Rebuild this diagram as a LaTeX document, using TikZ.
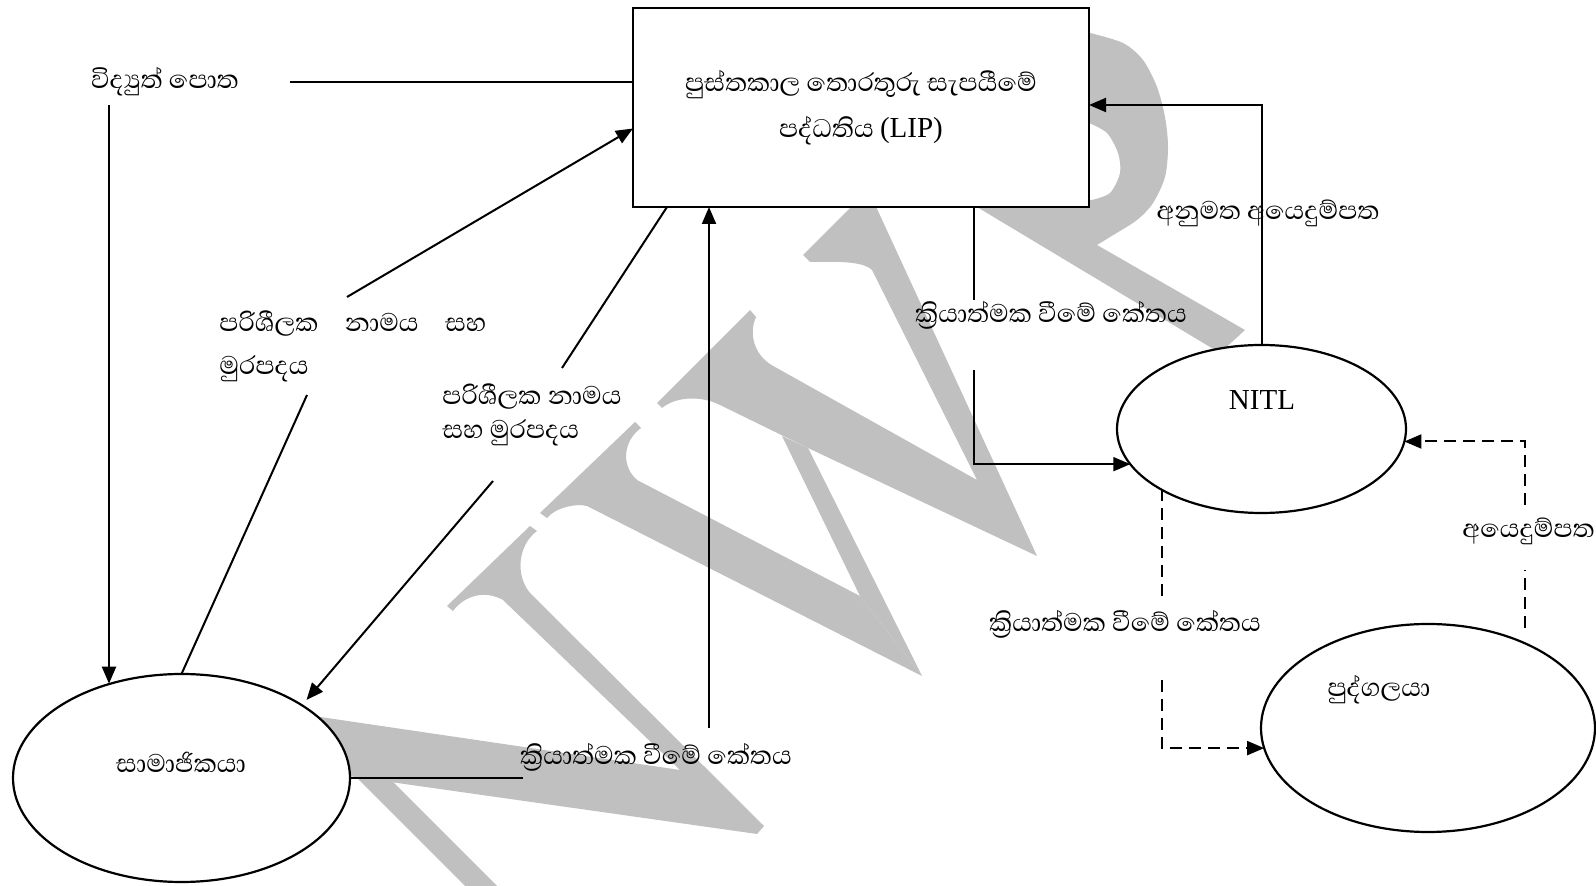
\documentclass[tikz,border=0pt]{standalone}
\usepackage{fontspec}
\setmainfont{Liberation Serif}
\newfontfamily\sinfnt[Script=Sinhala]{Abhaya Libre}
\usetikzlibrary{shapes.geometric,arrows.meta,calc}
\definecolor{wm}{HTML}{C0C0C0}
\newcommand{\sfs}{16.3pt}
\newcommand{\kk}{ක්^^^^200dරියාත්මක වීමේ කේතය}
\begin{document}
\begin{tikzpicture}[x=0.5pt,y=-0.5pt,
  conn/.style={line width=1pt},
  arr/.style={conn,-{Triangle[length=8.5pt,width=7pt]}},
  dsh/.style={conn,dash pattern=on 6pt off 3.5pt},
  darr/.style={dsh,-{Triangle[length=8.5pt,width=7pt]}},
  ell/.style={draw,ellipse,line width=1.1pt,fill=white,inner sep=0pt,outer sep=0pt},
  boxn/.style={draw,rectangle,line width=0.7pt,fill=white,inner sep=0pt,outer sep=0pt,minimum width=228pt,minimum height=99.5pt,align=center},
  si/.style={font=\sinfnt\fontsize{\sfs}{\sfs}\selectfont,inner sep=0pt},
  la/.style={font=\fontsize{14.5pt}{14.5pt}\selectfont,inner sep=0pt},
  wmk/.style={fill=wm,draw=none}
]
\useasboundingbox (0,0) rectangle (1596,886);
\fill[white] (0,0) rectangle (1596,886);

% ---- watermark ----
% N left stem
\fill[wmk] (465,886) -- (497,886) -- (343,732) -- (327,748) -- cycle;
% N diagonal + right stem
\fill[wmk] (300,714) -- (680,770) -- (503,600) .. controls (485,590) and (465,595) .. (453,611)
  -- (447,606) -- (530,526) -- (537,531) .. controls (518,545) and (515,575) .. (530,593)
  -- (764,826) -- (757,834) -- (320,772) -- cycle;
% W stroke 1
\fill[wmk] (540,513) -- (635,422) -- (641,428) .. controls (624,440) and (620,465) .. (637,480)
  -- (860,596) -- (922,676) -- (587,506) .. controls (575,503) and (555,508) .. (547,518) -- cycle;
% W stroke 2
\fill[wmk] (782,436) -- (808,448) -- (922,676) -- (860,596) -- cycle;
% W strokes 3 and 4
\fill[wmk] (657,403) -- (750,310) -- (756,317) .. controls (748,335) and (755,357) .. (775,367)
  -- (977,480) -- (872,270) .. controls (862,260) and (830,262) .. (810,262) -- (803,255)
  -- (860,198) -- (872,198) -- (1037,556) -- (808,448) -- (720,405)
  .. controls (700,395) and (675,397) .. (662,408) -- cycle;
% P
\fill[wmk] (1080,30) -- plot[smooth] coordinates {(1090,33) (1123,43) (1143,60) (1157,87) (1165,117) (1168,147) (1165,177) (1153,203) (1137,220) (1110,237) (1097,245)}
  -- (1245,330) -- (1220,353) -- (977,207) -- (970,195) -- (1092,200)
  -- plot[smooth] coordinates {(1092,200) (1110,193) (1120,173) (1118,153) (1107,133) (1089,123)}
  -- (1080,123) -- cycle;

% ---- nodes ----
\node[boxn,si] (lip) at (861,107.5) {පුස්තකාල තොරතුරු සැපයීමේ\\[7pt]පද්ධතිය {\fontsize{14.5pt}{14.5pt}\rmfamily\selectfont (LIP)}};
\node[ell,minimum width=168.5pt,minimum height=104pt] (sam) at (181.5,778) {};
\node[ell,minimum width=144.5pt,minimum height=84pt] (nitl) at (1261.5,429) {};
\node[ell,minimum width=167pt,minimum height=104pt] (pud) at (1428,728) {};

% ---- labels ----
\node[si] (vid) at (165,82) {විද්^^^^200dයුත් පොත};
\node[si,anchor=west,align=left] (p1) at (219,346.5) {\hbox to 133.5pt{පරිශීලක\hfil නාමය\hfil සහ}\\[5pt]මුරපදය};
\node[si,anchor=west,align=left] (p2) at (442,415) {පරිශීලක නාමය\\[0.7pt]සහ මුරපදය};
\node[si] (k1) at (656,757) {\kk};
\node[si] (k2) at (1051,315) {\kk};
\node[si] (k3) at (1125,624) {\kk};
\node[si] (anu) at (1268,213) {අනුමත අයෙදුම්පත};
\node[si,anchor=east] (aye) at (1595,531) {අයෙදුම්පත};
\node[si] (samt) at (181,762) {සාමාජිකයා};
\node[si] (pudt) at (1379,690) {පුද්ගලයා};
\node[la] (nitlt) at (1262,400) {NITL};

% ---- connectors ----
\coordinate (vA) at (290,82);
\draw[conn] (vA) -- (vA -| lip.west);
\coordinate (vB) at (109,105);
\draw[arr] (vB) -- (vB |- sam.127.9);
\coordinate (pA) at (347,297);
\draw[arr] (pA) -- ($(lip.west)+(0,21)$);
\coordinate (pB) at (307,395);
\draw[conn] (pB) -- (sam.north);
\coordinate (qA) at (562,368);
\draw[conn] (qA) -- ($(lip.south west)+(34,0)$);
\coordinate (qB) at (493,481);
\draw[arr] (qB) -- ($(sam.center)+(125,-78)$);
\coordinate (kA) at (709,728);
\draw[arr] (kA) -- (kA |- lip.south);
\coordinate (kB) at (523,778);
\draw[conn] (sam.east) -- (kB);
\coordinate (rA) at (974,300);
\draw[conn] (rA |- lip.south) -- (rA);
\coordinate (rB) at (974,370);
\draw[arr] (rB) |- (nitl.195.4);
\draw[arr] (nitl.north) |- ($(lip.east)+(0,-2.5)$);
\coordinate (dA) at (1162,596);
\draw[dsh] (dA |- nitl.211.5) -- (dA);
\coordinate (dB) at (1162,680);
\draw[darr] (dB) |- (pud.187.6);
\coordinate (eA) at (1525,570);
\coordinate (eB) at (1525,628);
\draw[dsh] (eB) -- (eA);
\coordinate (eC) at (1525,505);
\draw[darr] (eC) |- (nitl.-5.2);
\end{tikzpicture}
\end{document}
